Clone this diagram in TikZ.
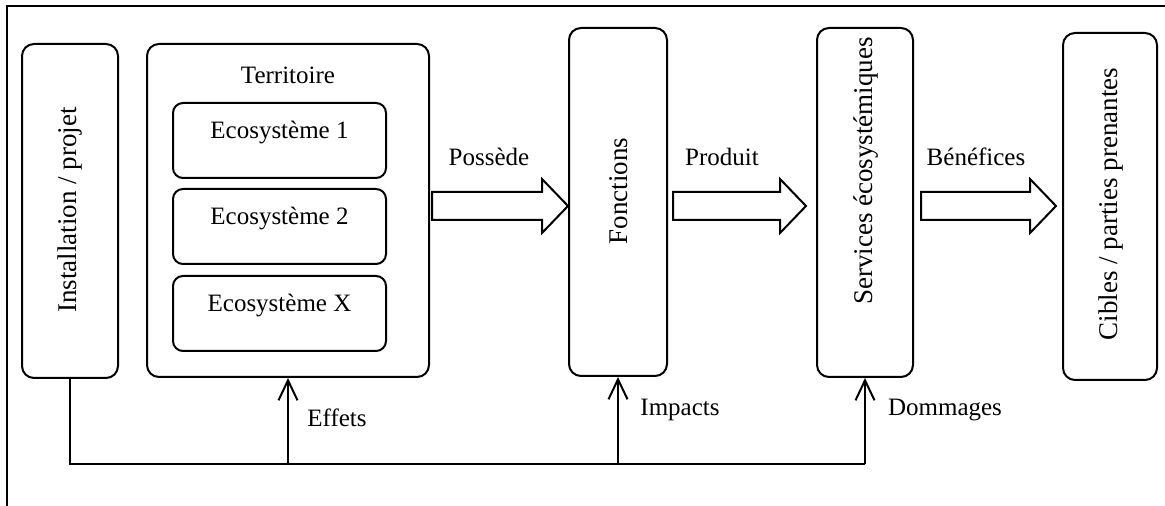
\documentclass[tikz,border=0pt]{standalone}
\usepackage{fontspec}
\setmainfont{Liberation Serif}
\usetikzlibrary{arrows.meta}
\newcommand\blkarrow[3]{\draw[line width=1pt, line join=miter] (#1,#3-14) -- (#2-26,#3-14) -- (#2-26,#3-27) -- (#2,#3) -- (#2-26,#3+27) -- (#2-26,#3+14) -- (#1,#3+14) -- cycle;}
\begin{document}
\begin{tikzpicture}[x=0.5pt,y=-0.5pt,
  font=\fontsize{12.5}{14}\selectfont,
  box/.style={draw, line width=1pt, rounded corners=6pt, inner sep=0pt},
  ecobox/.style={draw, line width=1pt, rounded corners=5pt, inner sep=0pt, minimum width=106.5pt, minimum height=37.5pt},
  vtext/.style={rotate=90, inner sep=0pt, font=\fontsize{13.5}{15}\selectfont},
  conn/.style={line width=1pt},
  up/.style={conn, -{Straight Barb[length=10pt,width=9.5pt,line width=1pt]}}]
\useasboundingbox (0,0) rectangle (1165,506);
\draw[line width=0.75pt] (1165,6) -- (7,6) -- (7,506);
% boxes
\node[box, minimum width=48pt, minimum height=167pt] (inst) at (70,211) {};
\node[vtext] (instl) at (70,210) {Installation / projet};
\node[box, minimum width=141pt, minimum height=166.5pt] (terr) at (288,210.5) {};
\node (terrl) at (288,75) {Territoire};
\node[ecobox] (eco1) at (279.5,140.5) {};
\node (eco1l) at (279.5,133) {Ecosystème 1};
\node[ecobox] (eco2) at (279.5,226.5) {};
\node (eco2l) at (279.5,219) {Ecosystème 2};
\node[ecobox] (ecox) at (279.5,313.5) {};
\node (ecoxl) at (279.5,306) {Ecosystème X};
\node[box, minimum width=49pt, minimum height=174pt] (fonc) at (618,202) {};
\node[vtext] (foncl) at (619,191) {Fonctions};
\node[box, minimum width=48pt, minimum height=174.5pt] (serv) at (865,202.5) {};
\node[vtext] (servl) at (866,171) {Services écosystémiques};
\node[box, minimum width=47pt, minimum height=173.5pt] (cib) at (1110,206.5) {};
\node[vtext] (cibl) at (1111,204) {Cibles / parties prenantes};
% block arrows
\blkarrow{432}{568}{206}
\blkarrow{673}{806}{206}
\blkarrow{921}{1056}{206}
\node (poss) at (489,157) {Possède};
\node (prod) at (722,157) {Produit};
\node (bene) at (976,157) {Bénéfices};
% bottom connectors
\coordinate (base) at (0,464);
\draw[conn] (inst.south) |- (serv.south |- base);
\draw[up] (terr.south |- base) -- (terr.south);
\draw[up] (fonc.south |- base) -- (fonc.south);
\draw[up] (serv.south |- base) -- (serv.south);
\node (eff) at (337,418) {Effets};
\node (imp) at (680,410) {Impacts};
\node (dom) at (945,410) {Dommages};
\end{tikzpicture}
\end{document}
